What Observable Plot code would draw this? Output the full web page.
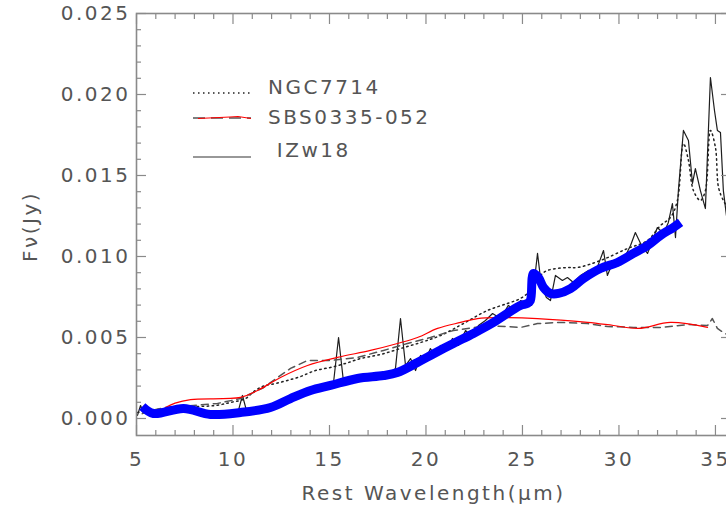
<!DOCTYPE html>
<html><head><meta charset="utf-8">
<script src="https://cdn.jsdelivr.net/npm/d3@7"></script>
<script src="https://cdn.jsdelivr.net/npm/@observablehq/plot@0.6"></script>
<style>
body{margin:0;background:#fff;}
#wrap{position:relative;width:726px;height:505px;overflow:hidden;background:#fff;}
#legend{position:absolute;left:0;top:0;pointer-events:none;}
</style></head><body><div id="wrap"></div>
<script>
// ---- data ----
const izwX = [5.05,5.21,5.36,5.57,5.83,6.14,6.50,6.87,7.28,7.80,8.32,8.83,9.35,9.97,10.28,10.49,10.70,11.17,11.68,12.20,12.72,13.24,13.76,14.27,14.79,15.21,15.47,15.73,16.09,16.50,16.87,17.23,17.64,18.06,18.42,18.68,18.94,19.20,19.46,19.72,19.97,20.23,20.49,20.75,21.11,21.37,21.68,22.05,22.31,22.72,23.08,23.45,23.86,24.27,24.64,24.90,25.26,25.47,25.62,25.78,25.98,26.24,26.45,26.71,27.07,27.33,27.64,28.01,28.42,28.78,29.20,29.40,29.72,29.97,30.34,30.60,30.85,31.17,31.48,31.74,31.99,32.31,32.56,32.77,32.93,33.08,33.34,33.60,33.81,33.96,34.22,34.48,34.74,34.95,35.10,35.26,35.41,35.57];
const izwY = [0.00019,0.0008,0.00037,0.00062,0.00031,0.00049,0.00037,0.00056,0.00037,0.00049,0.00031,0.00037,0.00037,0.00043,0.00049,0.00142,0.00049,0.00056,0.00068,0.00093,0.00123,0.00154,0.00173,0.00191,0.00204,0.00222,0.005,0.00222,0.00247,0.00235,0.00265,0.00235,0.00284,0.00265,0.00309,0.00617,0.00327,0.0037,0.00296,0.00389,0.00358,0.00432,0.00383,0.00451,0.0042,0.00494,0.00451,0.00543,0.00512,0.00574,0.00605,0.00648,0.00617,0.00698,0.00667,0.00728,0.0071,0.00698,0.00852,0.01019,0.00821,0.00747,0.00728,0.00883,0.00852,0.0087,0.0084,0.00883,0.00914,0.00902,0.01037,0.00883,0.00975,0.00944,0.01006,0.01068,0.01148,0.01068,0.01019,0.01099,0.01179,0.01142,0.0121,0.01327,0.01117,0.01407,0.01778,0.01716,0.01451,0.01543,0.01407,0.01296,0.02105,0.01901,0.01778,0.01765,0.01407,0.01253];

const ngcX = [5.05,5.73,6.50,7.28,8.16,9.09,9.87,10.65,11.01,11.32,11.68,12.20,12.82,13.50,14.27,15.05,15.83,16.61,17.64,18.68,19.72,20.75,21.94,23.19,24.22,24.90,25.41,25.93,26.30,27.33,27.85,29.04,30.44,31.48,32.15,32.67,33.03,33.34,33.60,33.86,34.22,34.48,34.74,35.00,35.16,35.41,35.57];
const ngcY = [0.00037,0.00049,0.00062,0.00068,0.00074,0.0008,0.00099,0.00123,0.0016,0.00185,0.00204,0.00216,0.00235,0.00259,0.00296,0.00315,0.0034,0.0037,0.00395,0.00432,0.00469,0.00512,0.00586,0.00667,0.0071,0.00741,0.0079,0.00883,0.00914,0.00932,0.00932,0.00975,0.01049,0.01099,0.01191,0.01241,0.01346,0.01698,0.01593,0.01407,0.01346,0.01407,0.01778,0.01673,0.01426,0.01346,0.01315];

const sbsX = [5.30,5.73,6.50,7.95,9.20,10.39,11.58,12.31,12.98,13.86,15.05,16.45,17.80,19.04,20.23,21.42,23.19,24.90,25.78,26.97,28.37,29.40,30.75,32.15,33.55,34.59,34.84,35.10,35.41,35.57];
const sbsY = [0.0003,0.00049,0.00068,0.0008,0.00093,0.00123,0.0019,0.00253,0.00309,0.00358,0.00358,0.00377,0.0042,0.00463,0.005,0.00543,0.00574,0.00562,0.00586,0.00593,0.00586,0.00568,0.00562,0.00562,0.0058,0.00574,0.00617,0.00556,0.00531,0.0052];

const sbsFitX = [6.50,7.00,7.80,10.39,11.27,12.46,13.86,15.41,17.12,18.52,19.56,20.60,21.79,22.67,23.86,25.78,28.37,29.72,31.01,32.67,34.59];
const sbsFitY = [0.00068,0.00095,0.00117,0.0013,0.00173,0.00253,0.00327,0.00377,0.0042,0.00463,0.005,0.00556,0.00593,0.00617,0.00623,0.00617,0.00593,0.00574,0.00556,0.00593,0.00562];

const blueX = [5.30,5.88,7.44,8.83,10.39,11.94,12.98,14.02,15.05,16.45,17.80,18.52,19.56,20.23,21.42,22.46,23.50,24.90,25.26,25.41,25.57,25.83,26.09,26.45,26.87,27.49,28.16,29.04,29.92,30.75,31.48,32.15,32.82,33.19];
const blueY = [0.00074,0.00031,0.00062,0.00025,0.00037,0.00068,0.00123,0.00173,0.00204,0.00247,0.00265,0.00284,0.00346,0.00389,0.00463,0.00525,0.00593,0.00698,0.0071,0.00728,0.00895,0.0087,0.00809,0.00772,0.00772,0.00802,0.00864,0.00926,0.00963,0.01019,0.01068,0.0113,0.01179,0.0121];

const xMajor = [5,10,15,20,25,30,35];
const xMinor = [6,7,8,9,11,12,13,14,16,17,18,19,21,22,23,24,26,27,28,29,31,32,33,34];
const yMajor = [0,0.005,0.010,0.015,0.020,0.025];
const yMinor = [0.001,0.002,0.003,0.004,0.006,0.007,0.008,0.009,0.011,0.012,0.013,0.014,0.016,0.017,0.018,0.019,0.021,0.022,0.023,0.024];
const legendLabels = ["NGC7714","SBS0335-052"," IZw18"];
const xTitle = "Rest Wavelength(\u03bcm)";
const yTitle = "F\u03bd(Jy)";

const pts = (xs, ys) => xs.map((x, i) => ({x, y: ys[i]}));
const AX = "#8a8a8a", TX = "#555";

const chart = Plot.plot({
  width: 726, height: 505,
  marginLeft: 136, marginRight: -4, marginTop: 13, marginBottom: 70,
  style: {fontFamily: "DejaVu Sans", background: "#fff", letterSpacing: "2.5px"},
  x: {domain: [5, 35.78]},
  y: {domain: [-0.00105, 0.025]},
  marks: [
    Plot.line(pts(izwX, izwY), {x: "x", y: "y", stroke: "#1e1e1e", strokeWidth: 1.2}),
    Plot.line(pts(ngcX, ngcY), {x: "x", y: "y", stroke: "#222", strokeWidth: 1.5, strokeDasharray: "1.5,3.5", curve: "catmull-rom"}),
    Plot.line(pts(sbsX, sbsY), {x: "x", y: "y", stroke: "#555", strokeWidth: 1.5, strokeDasharray: "7,5"}),
    Plot.line(pts(sbsFitX, sbsFitY), {x: "x", y: "y", stroke: "#ff0000", strokeWidth: 1.2, curve: "catmull-rom"}),
    Plot.line(pts(blueX, blueY), {x: "x", y: "y", stroke: "#0000ff", strokeWidth: 9, curve: "catmull-rom", strokeLinecap: "butt"}),
    Plot.frame({stroke: AX, strokeWidth: 1.6}),
    Plot.axisX(xMajor, {anchor: "bottom", tickSize: -10, tickFormat: () => "", stroke: AX, strokeWidth: 1.2, label: null}),
    Plot.axisX(xMinor, {anchor: "bottom", tickSize: -5, tickFormat: () => "", stroke: AX, strokeWidth: 1.2, label: null}),
    Plot.axisX(xMajor, {anchor: "top", tickSize: -10, tickFormat: () => "", stroke: AX, strokeWidth: 1.2, label: null}),
    Plot.axisX(xMinor, {anchor: "top", tickSize: -5, tickFormat: () => "", stroke: AX, strokeWidth: 1.2, label: null}),
    Plot.axisY(yMajor, {anchor: "left", tickSize: -10, tickFormat: () => "", stroke: AX, strokeWidth: 1.2, label: null}),
    Plot.axisY(yMinor, {anchor: "left", tickSize: -5, tickFormat: () => "", stroke: AX, strokeWidth: 1.2, label: null}),
    Plot.axisY(yMajor, {anchor: "right", tickSize: -10, tickFormat: () => "", stroke: AX, strokeWidth: 1.2, label: null}),
    Plot.axisY(yMinor, {anchor: "right", tickSize: -5, tickFormat: () => "", stroke: AX, strokeWidth: 1.2, label: null}),
    Plot.axisX(xMajor, {anchor: "bottom", tickSize: 0, tickPadding: 16, tickFormat: d => String(d), fill: TX, fontSize: 20, label: null}),
    Plot.axisY(yMajor, {anchor: "left", tickSize: 0, tickPadding: 6, tickFormat: d3.format(".3f"), fill: TX, fontSize: 20, label: null}),
    Plot.text([xTitle], {frameAnchor: "bottom", dy: 58, fill: TX, fontSize: 20, text: d => d, lineAnchor: "middle", textAnchor: "middle"}),
    Plot.text([yTitle], {frameAnchor: "left", dx: -106, dy: 2, rotate: -90, fill: TX, fontSize: 20, text: d => d, lineAnchor: "middle", textAnchor: "middle"})
  ]
});
const wrap = document.getElementById("wrap");
wrap.appendChild(chart);

// legend overlay
const svg = d3.select(wrap).append("svg").attr("id", "legend").attr("width", 726).attr("height", 505)
  .style("font-family", "DejaVu Sans").style("letter-spacing", "2.5px");
const rows = [
  {label: legendLabels[0], ly: 93, ty: 87},
  {label: legendLabels[1], ly: 118, ty: 117},
  {label: legendLabels[2], ly: 157, ty: 150}
];
svg.append("line").attr("x1", 193).attr("x2", 251).attr("y1", rows[0].ly).attr("y2", rows[0].ly)
  .attr("stroke", "#222").attr("stroke-width", 1.5).attr("stroke-dasharray", "1.5,3.5");
svg.append("line").attr("x1", 193).attr("x2", 251).attr("y1", rows[1].ly).attr("y2", rows[1].ly)
  .attr("stroke", "#555").attr("stroke-width", 1.5).attr("stroke-dasharray", "12,6");
svg.append("polyline").attr("points", "198,118.5 230,117 238,116.5 251,118.5")
  .attr("fill", "none").attr("stroke", "#ff0000").attr("stroke-width", 1.2);
svg.append("line").attr("x1", 193).attr("x2", 251).attr("y1", rows[2].ly).attr("y2", rows[2].ly)
  .attr("stroke", "#333").attr("stroke-width", 1.2);
svg.selectAll("text.lg").data(rows).join("text").attr("class", "lg")
  .attr("x", 268).attr("y", d => d.ty).attr("dy", "0.36em")
  .attr("fill", TX).attr("font-size", 20).style("white-space", "pre").text(d => d.label);
</script>
</body></html>
